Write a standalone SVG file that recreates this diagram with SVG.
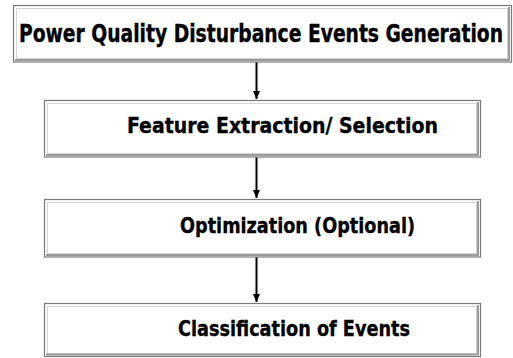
<svg xmlns="http://www.w3.org/2000/svg" width="513" height="358" viewBox="0 0 513 358">
<style>
.outer{fill:#ffffff;stroke:#7a7a7a;stroke-width:1.2}
.inner{fill:none;stroke:#d4d4d4;stroke-width:1}
.shade{fill:none;stroke:#9a9a9a;stroke-width:2}
.lbl{font-family:"DejaVu Sans Condensed","DejaVu Sans","Liberation Sans",sans-serif;font-stretch:condensed;font-weight:bold;fill:#000000;stroke:#000000;stroke-width:0.35}
.conn{stroke:#000000;stroke-width:2;fill:none}
</style>
<defs>
<marker id="arr" markerWidth="8" markerHeight="8" refX="8" refY="4" orient="auto" markerUnits="userSpaceOnUse" viewBox="0 0 8 8">
<path d="M0,0.5 L8,4 L0,7.5 Z" fill="#000000"/>
</marker>
</defs>
<g id="connectors">
<line class="conn" x1="256.5" y1="62" x2="256.5" y2="99" marker-end="url(#arr)"/>
<line class="conn" x1="256.5" y1="157" x2="256.5" y2="198" marker-end="url(#arr)"/>
<line class="conn" x1="256.5" y1="257" x2="256.5" y2="302" marker-end="url(#arr)"/>
</g>
<g id="node1">
<rect class="outer" x="13.5" y="5.5" width="498" height="56.5"/>
<rect class="inner" x="16.5" y="8.5" width="491" height="50"/>
<polyline class="shade" points="509,7 509,60 15,60"/>
<text class="lbl" x="19" y="42" font-size="24" textLength="484" lengthAdjust="spacingAndGlyphs">Power Quality Disturbance Events Generation</text>
</g>
<g id="node2">
<rect class="outer" x="44.5" y="100.5" width="436" height="56.5"/>
<rect class="inner" x="47.5" y="103.5" width="429" height="50"/>
<polyline class="shade" points="478,102 478,155 46,155"/>
<text class="lbl" x="127" y="133" font-size="22" textLength="311" lengthAdjust="spacingAndGlyphs">Feature Extraction/ Selection</text>
</g>
<g id="node3">
<rect class="outer" x="44.5" y="199.5" width="436" height="57.5"/>
<rect class="inner" x="47.5" y="202.5" width="429" height="51"/>
<polyline class="shade" points="478,201 478,255 46,255"/>
<text class="lbl" x="180" y="233" font-size="22" textLength="235" lengthAdjust="spacingAndGlyphs">Optimization (Optional)</text>
</g>
<g id="node4">
<rect class="outer" x="44.5" y="303.5" width="436" height="53"/>
<rect class="inner" x="47.5" y="306.5" width="429" height="47"/>
<polyline class="shade" points="478,305 478,354.5 46,354.5"/>
<text class="lbl" x="178" y="336" font-size="22" textLength="232" lengthAdjust="spacingAndGlyphs">Classification of Events</text>
</g>
</svg>
